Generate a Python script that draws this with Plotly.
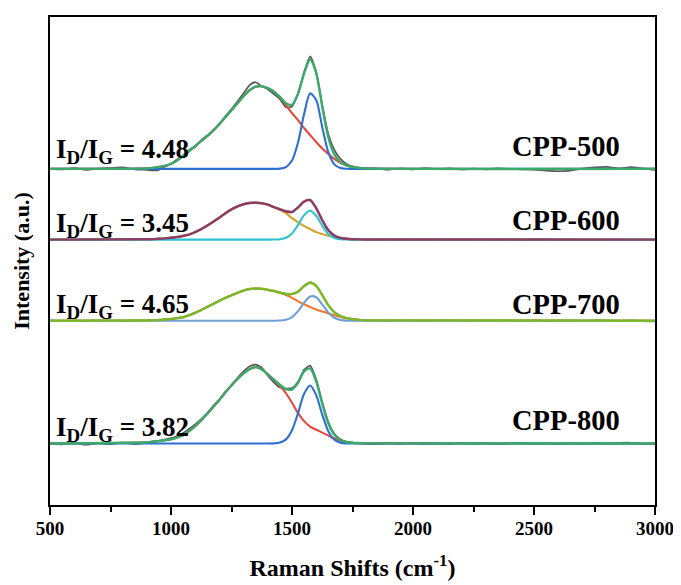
import plotly.graph_objects as go

# ---------------- data (heights above each spectrum's own baseline) ----------------
SAMPLES = ["CPP-500", "CPP-600", "CPP-700", "CPP-800"]
RATIOS = ["4.48", "3.45", "4.65", "3.82"]

# x sampling of fitted curves and raw spectra (Raman shift, cm-1)
X_FIT = [500] + list(range(900, 1801, 25)) + [3000]
X_RAW = list(range(500, 851, 50)) + list(range(900, 1801, 25)) + list(range(1850, 3001, 50))

D_500 = [0.5, 1, 2, 3, 5, 8.5, 13, 18, 23, 28, 33, 38.5, 45, 52, 59, 66, 73, 79, 82.5, 83,
         81, 77.5, 72, 64, 56, 49, 41, 34, 27, 20.5, 15, 10, 6, 3.5, 2, 1, 0.5]
G_500 = [0] * 21 + [0.02, 0.25, 1.8, 8.4, 26.5, 55, 75.8, 69.2, 41.9, 16.8, 4.5, 0.8, 0.1, 0, 0, 0]
FIT_500 = [0.5, 1, 2, 3, 5, 8.5, 13, 18, 23, 28, 33, 38.5, 45, 52, 59, 66, 73, 79, 82.5, 83,
           81, 77.5, 72.3, 65.8, 64.4, 75.5, 96, 109.8, 96.2, 62.4, 31.8, 14.5, 6.8, 3.6, 2, 1, 0.5]
RAW_500 = ([0, -0.5, 0.8, -1, 0.3, 0.9, 1.5, -0.5] +
           [-1, -1.5, -1, 2.5, 5, 9.5, 13.5, 19, 22, 29, 33.5, 39, 44.5, 53, 60, 68, 76, 84, 87, 83,
            80, 75, 70, 62, 62.5, 76, 97, 113, 97, 64, 35, 19, 10, 5, 2.5, 1, 0.5] +
           [0.3, -0.8, 0.5, -0.5, 0.8, -0.3, 0.6, -0.6, 0.2, -0.4, 0.5, 0, -0.5, -0.8, -1.8, -2.4,
            -1.8, 0.3, 1.5, 2.0, 0.5, 1.8, 0.3, -1])

D_600 = [0.3, 0.5, 0.8, 1.2, 1.8, 2.6, 3.6, 5, 7.5, 10.5, 14, 18, 22, 26.5, 30.3, 33.3, 35.5, 36.8, 37, 36.5,
         35, 32.5, 30, 26.5, 21.5, 17.5, 13.5, 10.5, 7.5, 5.5, 3.8, 2.4, 1.4, 0.8, 0.4, 0.2, 0.1]
G_600 = [0] * 21 + [0.05, 0.37, 1.8, 6.1, 14.7, 24.6, 29, 23.9, 13.9, 5.6, 1.6, 0.3, 0.05, 0, 0, 0]
FIT_600 = [0.3, 0.5, 0.8, 1.2, 1.8, 2.6, 3.6, 5, 7.5, 10.5, 14, 18, 22, 26.5, 30.3, 33.3, 35.5, 36.8, 37, 36.5,
           35, 32.55, 30.4, 28.3, 27.6, 32.2, 38.1, 39.5, 31.4, 19.4, 9.4, 4.0, 1.7, 0.85, 0.4, 0.2, 0.1]
RAW_600 = ([0, 0.5, -0.3, 0.4, -0.4, 0.3, 0, 0.4] +
           [0.5, 0.2, 1.2, 1.0, 2.2, 2.4, 4.0, 5.2, 7.9, 10.3, 14.5, 18.3, 22.6, 26.8, 30.8, 33.6, 36.0,
            37.2, 37.4, 36.9, 35.4, 32.8, 30.9, 29.0, 28.2, 32.6, 38.6, 40.3, 32.2, 20.1, 10.0, 4.5, 2.1,
            1.2, 0.6, 0.5, 0.2] +
           [-0.3, 0.4, -0.2, 0.3, -0.4, 0.5, 0, -0.5, 0.3, 0.6, -0.2, 0.4, -0.5, 0.2, 0.5, -0.3, 0.3,
            -0.4, 0.4, -0.2, 0.5, -0.3, 0.2, 0])

D_700 = [0.3, 0.5, 0.8, 1.2, 1.8, 2.6, 3.5, 5.5, 8, 10.8, 13.8, 17, 20, 23, 25.5, 28, 30.2, 31.8, 32.3, 32,
         31, 29.8, 28, 25.8, 23, 19.5, 16.5, 13.8, 11.3, 9.2, 7.3, 5.5, 3.9, 2.6, 1.6, 0.9, 0.5]
G_700 = [0] * 21 + [0.03, 0.2, 1.0, 3.7, 9.7, 18.1, 24.3, 23.6, 16.4, 8.2, 3.0, 0.8, 0.14, 0.02, 0, 0]
FIT_700 = [0.3, 0.5, 0.8, 1.2, 1.8, 2.6, 3.5, 5.5, 8, 10.8, 13.8, 17, 20, 23, 25.5, 28, 30.2, 31.8, 32.3, 32,
           31, 29.8, 28.2, 26.8, 26.7, 29.2, 34.6, 38.1, 34.9, 25.6, 15.5, 8.5, 4.7, 2.7, 1.6, 0.9, 0.5]
RAW_700 = ([0.3, -0.3, 0.2, -0.4, 0.5, 0, -0.3, 0.4] +
           [0.2, 0.9, 0.6, 1.6, 1.9, 3.0, 3.4, 5.9, 8.3, 10.6, 14.2, 17.3, 20.4, 23.2, 25.9, 28.4, 30.6,
            32.3, 32.6, 32.4, 31.2, 30.2, 28.5, 27.2, 27.1, 29.7, 35.2, 38.9, 35.4, 26.1, 15.9, 8.9, 5.0,
            3.0, 1.9, 1.1, 0.7] +
           [0.2, -0.3, 0.4, 0, -0.5, 0.3, 0.6, -0.2, 0.4, -0.4, 0.2, 0.5, -0.3, 0.3, -0.5, 0.2, 0.5,
            -0.2, 0.6, 0.3, -0.4, 0.5, -0.3, -0.6])

D_800 = [1.3, 1.8, 2.5, 3.3, 4.3, 6, 8.3, 12.5, 17.5, 23.5, 30, 37, 44, 51.5, 58.5, 65, 70.5, 74.8, 76.7, 74.5,
         69.5, 64, 58, 50.5, 41, 30.5, 22.5, 17, 13.8, 11, 8, 5, 2.8, 1.5, 0.8, 0.4, 0.2]
G_800 = [0] * 20 + [0.02, 0.15, 0.95, 4.2, 13.4, 30.6, 50, 58.3, 48.6, 29, 12.4, 3.8, 0.83, 0.13, 0.02, 0, 0]
FIT_800 = [1.3, 1.8, 2.5, 3.3, 4.3, 6, 8.3, 12.5, 17.5, 23.5, 30, 37, 44, 51.5, 58.5, 65, 70.5, 74.8, 76.7, 74.5,
           69.5, 64.2, 59, 54.7, 54.4, 61.1, 72.5, 75.3, 62.4, 40.0, 20.4, 8.8, 3.6, 1.6, 0.8, 0.4, 0.2]
RAW_800 = ([0, -0.8, 0.6, -1.2, 0.4, -0.6, 0.9, -0.4] +
           [1.0, 2.3, 2.8, 4.2, 5.5, 7.6, 10.5, 14.8, 19.3, 24.6, 30.5, 37.8, 43.6, 52.2, 58.0, 65.9, 72.4,
            77.6, 79.2, 76.2, 68.4, 61.5, 56.2, 55.3, 55.8, 62.0, 74.0, 78.2, 64.3, 41.5, 21.5, 9.8, 4.3,
            1.8, 0.5, 0.9, 0] +
           [-0.5, 0.6, -0.3, 0.5, -0.6, 0.3, -0.4, 0.6, -0.2, 0.5, -0.5, 0.3, 0.6, -0.4, 0.2, -0.6, 0.5,
            -0.3, 0.4, -0.2, 0.6, 0.8, -0.3, 0])

SPECTRA = {
    "CPP-500": (RAW_500, D_500, G_500, FIT_500),
    "CPP-600": (RAW_600, D_600, G_600, FIT_600),
    "CPP-700": (RAW_700, D_700, G_700, FIT_700),
    "CPP-800": (RAW_800, D_800, G_800, FIT_800),
}

# ---------------- layout / style ----------------
OFFSETS = {"CPP-500": 337.5, "CPP-600": 266.5, "CPP-700": 185.0, "CPP-800": 61.7}
LABEL_Y = {"CPP-500": 360, "CPP-600": 285.5, "CPP-700": 201.5, "CPP-800": 84.5}
RATIO_Y = {"CPP-500": 355, "CPP-600": 281.5, "CPP-700": 200, "CPP-800": 76}
COLORS = {  # raw, D, G, fit
    "CPP-500": ("#555555", "#e8473c", "#2e6fd3", "#3aaa6c"),
    "CPP-600": ("#b57cc6", "#d7a32c", "#2ac3cf", "#8b3d62"),
    "CPP-700": ("#6aa51c", "#f27a2c", "#6f9fd6", "#7cb82b"),
    "CPP-800": ("#555555", "#e8473c", "#2e6fd3", "#3aaa6c"),
}
FONT = "Liberation Serif"

fig = go.Figure()
for name in SAMPLES:
    raw, d, g, fit = SPECTRA[name]
    off = OFFSETS[name]
    c_raw, c_d, c_g, c_fit = COLORS[name]
    fig.add_trace(go.Scatter(x=X_RAW, y=[off + v for v in raw], mode="lines",
                             line=dict(color=c_raw, width=1.7, shape="spline", smoothing=0.6),
                             hoverinfo="skip"))
    for arr, col, w in ((d, c_d, 2.1), (g, c_g, 2.1), (fit, c_fit, 2.4)):
        fig.add_trace(go.Scatter(x=X_FIT, y=[off + v for v in [0] + arr + [0]], mode="lines",
                                 line=dict(color=col, width=w, shape="spline", smoothing=0.8),
                                 hoverinfo="skip"))

annotations = []
for name, ratio in zip(SAMPLES, RATIOS):
    annotations.append(dict(text="<b>I<sub>D</sub>/I<sub>G</sub> = %s</b>" % ratio,
                            xref="paper", yref="y", x=0.006, y=RATIO_Y[name],
                            xanchor="left", yanchor="middle", showarrow=False,
                            font=dict(family=FONT, size=27, color="black")))
    annotations.append(dict(text="<b>%s</b>" % name, xref="paper", yref="y",
                            x=0.945, y=LABEL_Y[name], xanchor="right", yanchor="middle",
                            showarrow=False, font=dict(family=FONT, size=28.5, color="black")))

# the page body has an 8 px margin, so the figure is 8 px smaller and margins shifted
fig.update_layout(
    width=673, height=577,
    margin=dict(l=42, r=24, t=7, b=80),
    plot_bgcolor="white", paper_bgcolor="white",
    showlegend=False,
    font=dict(family=FONT, color="black"),
    annotations=annotations,
)
fig.update_xaxes(
    range=[500, 3000], tick0=500, dtick=500,
    ticks="outside", ticklen=8, tickwidth=2, tickcolor="black",
    showline=True, linewidth=2, linecolor="black", mirror=True,
    showgrid=False, zeroline=False,
    ticklabelstandoff=-3,
    tickfont=dict(family=FONT, size=19, color="black", weight="bold"),
    minor=dict(dtick=250, ticks="outside", ticklen=5, tickwidth=1.5, tickcolor="black", showgrid=False),
    title=dict(text="Raman Shifts (cm<sup>-1</sup>)", standoff=21,
               font=dict(family=FONT, size=24, color="black", weight="bold")),
)
fig.update_yaxes(
    range=[0, 490], showticklabels=False, ticks="",
    showline=True, linewidth=2, linecolor="black", mirror=True,
    showgrid=False, zeroline=False,
    title=dict(text="Intensity (a.u.)", standoff=12,
               font=dict(family=FONT, size=22, color="black", weight="bold")),
)

fig.write_html("out.html")
